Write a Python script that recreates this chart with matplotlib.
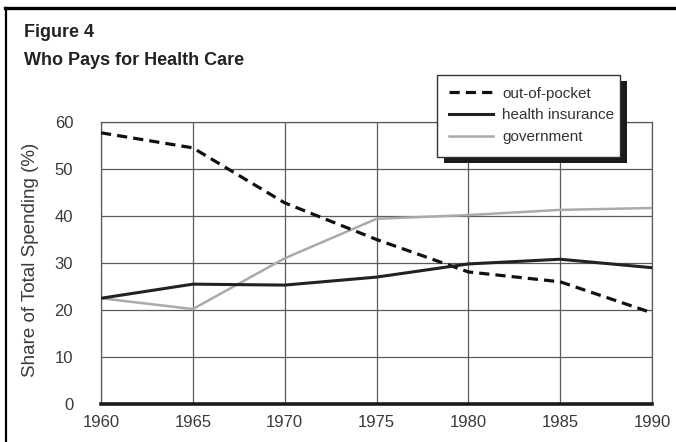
import matplotlib.pyplot as plt
from matplotlib.lines import Line2D
from matplotlib.patches import Rectangle

years = [1960, 1965, 1970, 1975, 1980, 1985, 1990]
out_of_pocket = [57.7, 54.5, 42.8, 35.0, 28.1, 26.0, 19.4]
health_insurance = [22.5, 25.5, 25.3, 27.0, 29.8, 30.8, 29.0]
government = [22.5, 20.2, 31.0, 39.4, 40.2, 41.3, 41.7]

series_labels = ['out-of-pocket', 'health insurance', 'government']
x_ticks = [1960, 1965, 1970, 1975, 1980, 1985, 1990]
y_ticks = [0, 10, 20, 30, 40, 50, 60]

plt.rcParams['font.family'] = ['Liberation Sans', 'DejaVu Sans']

W, H = 676, 442
fig = plt.figure(figsize=(W / 100, H / 100), dpi=100)
fig.patch.set_facecolor('white')

ax = fig.add_axes([101 / W, (H - 404) / H, 551 / W, 282 / H])
ax.set_facecolor('white')

ax.plot(years, out_of_pocket, color='#111111', lw=2.3, ls=(0, (3.2, 1.9)),
        label=series_labels[0], zorder=4)
ax.plot(years, health_insurance, color='#222222', lw=2.2,
        label=series_labels[1], zorder=4)
ax.plot(years, government, color='#aaaaaa', lw=1.8,
        label=series_labels[2], zorder=3)

ax.set_xlim(1960, 1990)
ax.set_ylim(0, 60)
ax.set_xticks(x_ticks)
ax.set_yticks(y_ticks)
ax.grid(True, color='#5a5a5a', lw=0.9)
ax.set_axisbelow(True)
ax.tick_params(length=0, labelsize=12, labelcolor='#3a3a3a')
ax.tick_params(axis='y', pad=20)
ax.tick_params(axis='x', pad=8)
for side in ['top', 'right', 'left']:
    ax.spines[side].set_color('#5a5a5a')
    ax.spines[side].set_linewidth(0.9)
ax.spines['bottom'].set_color('#1a1a1a')
ax.spines['bottom'].set_linewidth(2.6)
ax.spines['bottom'].set_zorder(5)

fig.text(31 / W, (H - 260) / H, 'Share of Total Spending (%)', rotation=90,
         ha='center', va='center', fontsize=13.5, color='#3a3a3a')

fig.text(24 / W, (H - 37) / H, 'Figure 4', fontsize=13, fontweight='bold',
         color='#222222', va='baseline')
fig.text(24 / W, (H - 65) / H, 'Who Pays for Health Care', fontsize=13,
         fontweight='bold', color='#222222', va='baseline')

# legend box with a solid drop shadow
bx0, by0, bw, bh = 437, 157, 183, 82
fig.patches.append(Rectangle(((bx0 + 7) / W, (H - by0 - 6) / H), bw / W, bh / H,
                             transform=fig.transFigure, facecolor='#1a1a1a',
                             edgecolor='none', zorder=5))
fig.patches.append(Rectangle((bx0 / W, (H - by0) / H), bw / W, bh / H,
                             transform=fig.transFigure, facecolor='white',
                             edgecolor='#333333', lw=1.0, zorder=6))
leg = fig.legend(loc='upper left', bbox_to_anchor=(441 / W, (H - 79) / H),
                 frameon=False, fontsize=11, handlelength=2.9,
                 handletextpad=0.6, labelspacing=0.5, borderpad=0.0)
leg.set_zorder(7)
for t in leg.get_texts():
    t.set_color('#333333')

# page border (top and left)
fig.add_artist(Line2D([5 / W, 1], [(H - 8) / H, (H - 8) / H],
                      transform=fig.transFigure, color='black', lw=2.4))
fig.add_artist(Line2D([6 / W, 6 / W], [0, (H - 8) / H],
                      transform=fig.transFigure, color='black', lw=1.6))

fig.savefig('out.png', dpi=100)
